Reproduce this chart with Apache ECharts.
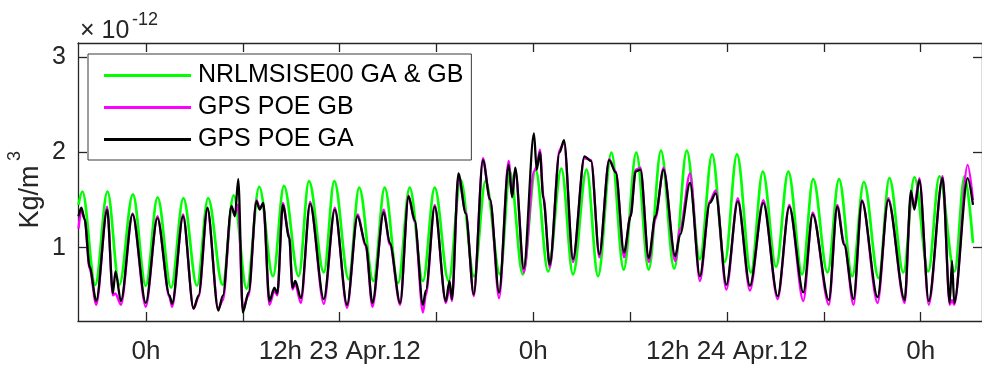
<!DOCTYPE html>
<html><head><meta charset="utf-8">
<script src="https://cdn.jsdelivr.net/npm/echarts@6/dist/echarts.min.js"></script>
<style>html,body{margin:0;padding:0;background:#fff}#c{width:982px;height:365px}</style>
</head><body><div id="c"></div>
<script>
// hours since 23 Apr 2012 00:00
const tickHours = [0, 6, 12, 18, 24, 30, 36, 42, 48];
const labelHours = [0, 12, 24, 36, 48];
const labelTexts = ['0h', '12h 23 Apr.12', '0h', '12h 24 Apr.12', '0h'];
const yTicks = [1, 2, 3];

const msisTime = [-4.18,-3.94,-3.14,-2.385,-1.65,-0.81,-0.01,0.72,1.56,2.32,
  3.16,3.85,4.75,5.43,6.24,7.02,7.87,8.55,9.46,10.10,
  11.02,11.67,12.56,13.21,14.09,14.79,15.62,16.34,17.16,17.89,
  18.75,19.50,20.33,21.04,21.94,22.55,23.35,24.14,24.92,25.74,
  26.46,27.30,28.01,28.84,29.60,30.38,31.15,31.91,32.73,33.51,
  34.32,35.08,35.86,36.62,37.48,38.22,39.04,39.80,40.66,41.34,
  42.23,42.94,43.76,44.48,45.40,46.06,46.93,47.61,48.47,49.16,
  50.10,50.72,51.24];
const msisValue = [1.45,1.59,0.61,1.59,0.61,1.56,0.60,1.53,0.58,1.52,
  0.60,1.52,0.61,1.55,0.57,1.64,0.70,1.65,0.70,1.70,
  0.74,1.70,0.67,1.63,0.65,1.63,0.63,1.63,0.65,1.63,
  0.65,1.71,0.70,1.70,0.72,1.80,0.72,1.82,0.75,1.83,
  0.72,1.82,0.70,2.00,0.77,2.00,0.77,2.02,0.78,2.02,
  0.88,1.98,0.85,1.98,0.74,1.80,0.80,1.80,0.72,1.72,
  0.74,1.72,0.70,1.69,0.68,1.73,0.74,1.74,0.75,1.75,
  0.75,1.75,1.05];

const poeTime = [-4.18,-4.00,-3.80,-3.49,-3.08,-2.40,-2.05,-1.89,-1.55,-0.83,
  -0.01,0.71,1.46,1.62,2.30,2.95,3.26,3.81,4.48,4.77,
  5.30,5.51,5.72,6.00,6.36,6.85,7.04,7.27,7.65,7.96,
  8.14,8.48,8.88,9.08,9.25,9.60,10.17,11.02,11.70,12.46,
  13.11,13.62,14.03,14.73,15.11,15.75,16.27,16.65,17.16,17.34,
  17.89,18.58,18.81,18.96,19.36,19.81,20.31,20.88,21.32,21.88,
  22.47,22.69,22.88,23.41,24.04,24.21,24.41,24.62,25.02,25.63,
  25.90,26.46,27.17,27.58,28.09,28.70,29.11,29.62,30.03,30.34,
  30.64,31.15,31.56,32.07,32.79,33.10,33.71,34.32,34.94,35.30,
  35.96,36.67,37.42,38.25,39.14,39.86,40.73,41.31,42.31,42.83,
  43.26,43.84,44.36,45.33,45.99,47.01,47.40,47.61,47.92,48.50,
  49.36,49.80,49.94,50.08,50.91,51.24];
const poeGA = [1.33,1.42,1.30,0.80,0.44,1.40,0.52,0.75,0.44,1.35,
  0.42,1.31,0.50,0.41,1.33,0.36,0.50,1.42,0.34,0.50,
  1.44,1.33,1.72,0.32,0.53,1.49,1.40,1.47,0.44,0.58,
  0.52,1.45,1.10,0.58,0.65,0.47,1.46,0.46,1.40,0.40,
  1.33,1.03,0.42,1.37,1.05,0.42,1.54,1.29,0.40,0.55,
  1.43,0.44,0.65,0.46,1.78,1.36,0.51,1.92,1.51,0.53,
  1.87,1.53,1.84,0.78,2.20,1.82,2.00,1.52,0.82,2.00,
  2.13,0.88,1.96,1.91,0.93,1.92,1.79,0.95,1.33,1.80,
  1.82,0.89,1.33,1.82,0.91,1.14,1.68,0.70,1.47,1.57,
  0.61,1.49,0.60,1.47,0.49,1.43,0.53,1.35,0.45,1.43,
  1.03,0.46,1.49,0.48,1.50,0.45,1.60,1.40,1.71,0.44,
  1.73,0.42,0.86,0.42,1.73,1.45];
const poeGB = [1.20,1.40,1.30,0.78,0.40,1.43,0.50,0.52,0.40,1.36,
  0.38,1.33,0.48,0.38,1.35,0.36,0.48,1.40,0.36,0.45,
  1.42,1.35,1.45,0.36,0.50,1.50,1.42,1.45,0.40,0.55,
  0.50,1.47,1.12,0.56,0.62,0.42,1.48,0.41,1.42,0.37,
  1.35,1.02,0.38,1.40,1.03,0.40,1.55,1.27,0.32,0.50,
  1.45,0.42,0.58,0.44,1.75,1.38,0.49,1.94,1.50,0.47,
  1.91,1.55,1.82,0.74,1.80,1.85,2.03,1.55,0.79,2.03,
  2.10,0.85,1.94,1.92,0.90,1.93,1.80,0.90,1.35,1.82,
  1.84,0.85,1.30,1.84,0.86,1.20,1.78,0.65,1.49,1.60,
  0.56,1.52,0.55,1.50,0.46,1.45,0.44,1.37,0.40,1.45,
  1.05,0.40,1.50,0.42,1.52,0.42,1.55,1.45,1.73,0.40,
  1.75,0.40,0.45,0.40,1.87,1.50];

const seriesNames = ['NRLMSISE00 GA & GB', 'GPS POE GB', 'GPS POE GA'];
const seriesColors = ['#00ff00', '#ff00ff', '#000000'];

const pairs = (t, v) => t.map((x, i) => [x, v[i]]);
const FONT = '"Liberation Sans", Arial, Helvetica, sans-serif';
const AX = '#262626';
const X_MIN = -4.21, X_MAX = 51.8;

const chart = echarts.init(document.getElementById('c'));
const axLine = { show: true, onZero: false, lineStyle: { color: AX, width: 1.3 } };
const tickStyle = { color: AX, width: 1.3 };

chart.setOption({
  animation: false,
  backgroundColor: '#fff',
  grid: { left: 78, top: 43, width: 913, height: 278, containLabel: false },
  xAxis: [
    { type: 'value', position: 'bottom', min: X_MIN, max: X_MAX,
      axisLine: axLine,
      axisTick: { show: true, inside: true, length: 9, customValues: tickHours, lineStyle: tickStyle },
      axisLabel: { show: true, customValues: labelHours, margin: 18, fontSize: 26, fontFamily: FONT, color: AX,
        formatter: v => labelTexts[labelHours.indexOf(v)] },
      splitLine: { show: false } },
    { type: 'value', position: 'top', min: X_MIN, max: X_MAX,
      axisLine: axLine,
      axisTick: { show: true, inside: true, length: 9, customValues: tickHours, lineStyle: tickStyle },
      axisLabel: { show: false }, splitLine: { show: false } }
  ],
  yAxis: [
    { type: 'value', position: 'left', min: 0.23, max: 3.15,
      axisLine: axLine,
      axisTick: { show: true, inside: true, length: 9, customValues: yTicks, lineStyle: tickStyle },
      axisLabel: { show: true, customValues: yTicks, margin: 12, fontSize: 25, fontFamily: FONT, color: AX },
      splitLine: { show: false } },
    { type: 'value', position: 'right', min: 0.23, max: 3.15,
      axisLine: axLine,
      axisTick: { show: true, inside: true, length: 9, customValues: yTicks, lineStyle: tickStyle },
      axisLabel: { show: false }, splitLine: { show: false } }
  ],
  legend: {
    orient: 'vertical', left: 88, top: 54,
    data: seriesNames.map(n => ({ name: n, icon: 'rect' })),
    itemWidth: 87, itemHeight: 3, itemGap: 7,
    padding: [9, 8, 8, 16],
    backgroundColor: '#fff', borderColor: '#3a3a3a', borderWidth: 1,
    textStyle: { fontSize: 25, lineHeight: 24, fontFamily: FONT, color: '#000', padding: [0, 0, 0, 2] },
    selectedMode: false
  },
  graphic: [
    { type: 'text', x: 80, y: 31, z: 100,
      style: { text: '× 10', font: '25px ' + FONT, fill: AX, verticalAlign: 'middle', align: 'left' } },
    { type: 'text', x: 132, y: 20, z: 100,
      style: { text: '-12', font: '18px ' + FONT, fill: AX, verticalAlign: 'middle', align: 'left' } },
    { type: 'text', x: 30.5, y: 197, rotation: Math.PI / 2, z: 100,
      style: { text: 'Kg/m', font: '27px ' + FONT, fill: AX, verticalAlign: 'middle', align: 'center' } },
    { type: 'text', x: 15.5, y: 156, rotation: Math.PI / 2, z: 100,
      style: { text: '3', font: '18px ' + FONT, fill: AX, verticalAlign: 'middle', align: 'center' } }
  ],
  series: [
    { name: seriesNames[0], type: 'line', data: pairs(msisTime, msisValue), showSymbol: false,
      smooth: 0.35, smoothMonotone: 'x', color: seriesColors[0], lineStyle: { width: 2.7, color: seriesColors[0] }, z: 2 },
    { name: seriesNames[1], type: 'line', data: pairs(poeTime, poeGB), showSymbol: false,
      smooth: 0.3, smoothMonotone: 'x', color: seriesColors[1], lineStyle: { width: 2.4, color: seriesColors[1] }, z: 3 },
    { name: seriesNames[2], type: 'line', data: pairs(poeTime, poeGA), showSymbol: false,
      smooth: 0.3, smoothMonotone: 'x', color: seriesColors[2], lineStyle: { width: 2.3, color: seriesColors[2] }, z: 4 }
  ]
});
</script></body></html>
